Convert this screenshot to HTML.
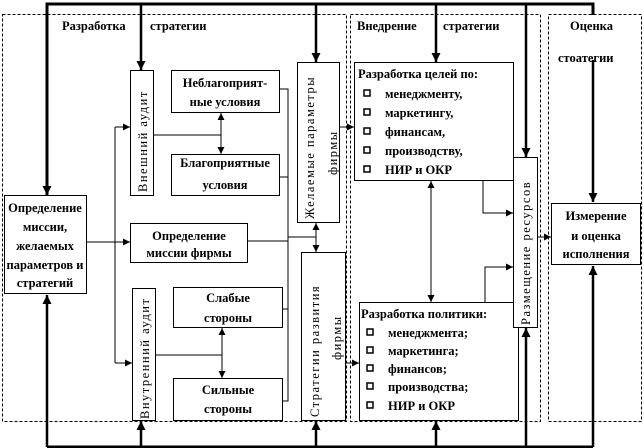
<!DOCTYPE html>
<html><head><meta charset="utf-8"><style>
html,body{margin:0;padding:0;background:#fff}
svg{display:block}
text{font-family:"Liberation Serif",serif;font-weight:bold;font-size:12.5px;fill:#000}
</style></head><body>
<svg width="644" height="448" viewBox="0 0 644 448" xmlns="http://www.w3.org/2000/svg">
<defs>
<marker id="a" viewBox="0 0 10 10" refX="10" refY="5" markerWidth="7" markerHeight="7" markerUnits="userSpaceOnUse" orient="auto"><path d="M0,0L10,5L0,10z" fill="#000"/></marker>
<marker id="b" viewBox="0 0 10 10" refX="10" refY="5" markerWidth="9" markerHeight="9" markerUnits="userSpaceOnUse" orient="auto"><path d="M0,0L10,5L0,10z" fill="#000"/></marker>
</defs>
<g fill="none" stroke="#000" stroke-width="1" stroke-dasharray="3,2">
<rect x="2.5" y="14.5" width="344" height="407"/>
<rect x="350.5" y="14.5" width="190" height="407"/>
<rect x="548.5" y="14.5" width="93" height="407"/>
</g>
<g fill="none" stroke="#000" stroke-width="3">
<path d="M47,195V4H593V15"/>
<path d="M47,447H593"/>
</g>
<g fill="none" stroke="#000" stroke-width="2.5" marker-end="url(#b)">
<path d="M47,40V195"/><path d="M141,4V70"/><path d="M316,4V62"/><path d="M436,4V62"/><path d="M526,4V157"/><path d="M593,60V202"/>
<path d="M47,447V295"/><path d="M141,447V421"/><path d="M316,447V421"/><path d="M436,447V421"/><path d="M526,447V328"/><path d="M593,447V266"/>
</g>
<g fill="#fff" stroke="#000" stroke-width="1">
<rect x="4.5" y="195.5" width="82" height="98"/>
<rect x="130.5" y="70.5" width="23" height="125"/>
<rect x="171.5" y="70.5" width="108" height="42"/>
<rect x="171.5" y="154.5" width="108" height="41"/>
<rect x="297.5" y="62.5" width="42" height="160"/>
<rect x="130.5" y="223.5" width="117" height="39"/>
<rect x="132.5" y="288.5" width="23" height="132"/>
<rect x="173.5" y="287.5" width="109" height="40"/>
<rect x="173.5" y="378.5" width="109" height="42"/>
<rect x="301.5" y="252.5" width="44" height="168"/>
<rect x="354.5" y="62.5" width="159" height="118"/>
<rect x="359.5" y="302.5" width="159" height="118"/>
<rect x="513.5" y="157.5" width="24" height="170"/>
<rect x="551.5" y="203.5" width="89" height="61"/>
</g>
<g fill="none" stroke="#000" stroke-width="1">
<path d="M86,242H115M115,127V363"/>
<path d="M115,127H130" marker-end="url(#a)"/>
<path d="M115,242H130" marker-end="url(#a)"/>
<path d="M115,363H132" marker-end="url(#a)"/>
<path d="M153,135H221"/>
<path d="M221,135V113" marker-end="url(#a)"/><path d="M221,135V154" marker-end="url(#a)"/>
<path d="M155,355H222"/>
<path d="M222,355V328" marker-end="url(#a)"/><path d="M222,355V378" marker-end="url(#a)"/>
<path d="M279,89H288V401H282M279,177H288M282,309H288M247,241H288M288,237H316"/>
<path d="M316,237V223" marker-end="url(#a)"/><path d="M316,237V252" marker-end="url(#a)"/>
<path d="M339,127H354" marker-end="url(#a)"/>
<path d="M345,363H359" marker-end="url(#a)"/>
<path d="M431,240V181" marker-end="url(#a)"/><path d="M431,240V302" marker-end="url(#a)"/>
<path d="M483,180V213H513" marker-end="url(#a)"/>
<path d="M485,302V267H513" marker-end="url(#a)"/>
<path d="M537,237H551" marker-end="url(#a)"/>
</g>
<text x="62" y="30">Разработка</text><text x="150" y="30">стратегии</text>
<text x="357" y="30">Внедрение</text><text x="443" y="30">стратегии</text>
<text x="570" y="30">Оценка</text><text x="558" y="62">стоатегии</text>
<g text-anchor="middle">
<text x="45" y="212">Определение</text><text x="45" y="231">миссии,</text><text x="45" y="250">желаемых</text><text x="45" y="269">параметров и</text><text x="45" y="287">стратегий</text>
<text x="225" y="87">Неблагоприят-</text><text x="225" y="106">ные условия</text>
<text x="225" y="167">Благоприятные</text><text x="225" y="189">условия</text>
<text x="189" y="240">Определение</text><text x="189" y="257">миссии фирмы</text>
<text x="228" y="302">Слабые</text><text x="228" y="322">стороны</text>
<text x="228" y="394">Сильные</text><text x="228" y="413">стороны</text>
<text x="596" y="220">Измерение</text><text x="596" y="240">и оценка</text><text x="596" y="258">исполнения</text>
</g>
<text x="358" y="78">Разработка целей по:</text>
<g><text x="385" y="98">менеджменту,</text><text x="385" y="117">маркетингу,</text><text x="385" y="136">финансам,</text><text x="385" y="155">производству,</text><text x="385" y="174">НИР и ОКР</text></g>
<text x="361" y="318">Разработка политики:</text>
<g><text x="388" y="337">менеджмента;</text><text x="388" y="355">маркетинга;</text><text x="388" y="373">финансов;</text><text x="388" y="391">производства;</text><text x="388" y="410">НИР и ОКР</text></g>
<g fill="#fff" stroke="#000" stroke-width="1.5">
<rect x="364" y="90" width="6" height="6"/><rect x="364" y="109" width="6" height="6"/><rect x="364" y="128" width="6" height="6"/><rect x="364" y="147" width="6" height="6"/><rect x="364" y="166" width="6" height="6"/>
<rect x="367" y="329" width="6" height="6"/><rect x="367" y="347" width="6" height="6"/><rect x="367" y="365" width="6" height="6"/><rect x="367" y="383" width="6" height="6"/><rect x="367" y="402" width="6" height="6"/>
</g>
<g style="font-weight:normal;letter-spacing:1.5px;font-size:13px">
<text transform="translate(147,192) rotate(-90)" style="font-weight:normal">Внешний аудит</text>
<text transform="translate(149,419) rotate(-90)" style="font-weight:normal">Внутренний аудит</text>
<text transform="translate(314,219) rotate(-90)" style="font-weight:normal">Желаемые параметры</text>
<text transform="translate(337,175) rotate(-90)" style="font-weight:normal">фирмы</text>
<text transform="translate(319,417) rotate(-90)" style="font-weight:normal">Стратегии развития</text>
<text transform="translate(341,360) rotate(-90)" style="font-weight:normal">фирмы</text>
<text transform="translate(530,325) rotate(-90)" style="font-weight:normal">Размещение ресурсов</text>
</g>
</svg>
</body></html>
